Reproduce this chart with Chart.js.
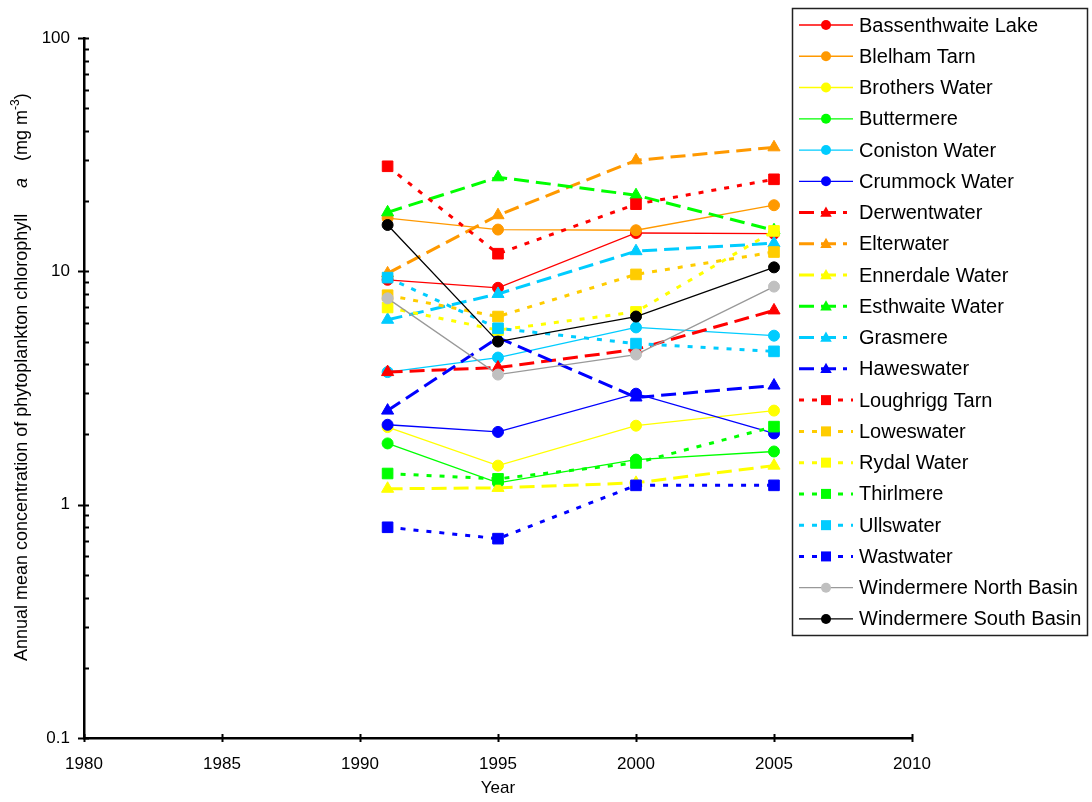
<!DOCTYPE html>
<html>
<head>
<meta charset="utf-8">
<script src="https://cdn.jsdelivr.net/npm/chart.js@4.4.1/dist/chart.umd.min.js"></script>
<style>
html,body{margin:0;padding:0;background:#fff;}
#wrap{position:relative;width:1092px;height:802px;}
</style>
</head>
<body>
<div id="wrap"><canvas id="chart"></canvas></div>
<script>
// survey years and lake chlorophyll a values (mg m-3)
const years=[1991,1995,2000,2005];
const xTicks=[1980,1985,1990,1995,2000,2005,2010];
const yTicks=[0.1,1,10,100];

const bassenthwaite=[9.2,8.5,14.6,14.5];
const blelham=[16.9,15.1,15.0,19.2];
const brothers=[2.15,1.47,2.18,2.53];
const buttermere=[1.83,1.24,1.56,1.69];
const coniston=[3.7,4.27,5.75,5.3];
const crummock=[2.2,2.05,2.99,2.02];
const derwent=[3.7,3.87,4.63,6.8];
const elter=[9.8,17.4,29.9,34.0];
const ennerdale=[1.17,1.18,1.24,1.47];
const esthwaite=[17.9,25.3,21.2,15.0];
const grasmere=[6.2,8.0,12.2,13.2];
const hawes=[2.53,5.2,2.88,3.24];
const loughrigg=[28.2,11.9,19.4,24.8];
const lowes=[7.9,6.4,9.7,12.1];
const rydal=[7.0,5.6,6.7,14.9];
const thirlmere=[1.36,1.29,1.51,2.16];
const ulls=[9.4,5.7,4.9,4.54];
const wast=[0.80,0.715,1.21,1.21];
const winNorth=[7.66,3.61,4.4,8.6];
const winSouth=[15.8,5.0,6.4,10.4];

const FONT="'Liberation Sans', Arial, sans-serif";

// c = circle/solid thin, t = triangle/long dash, s = square/dotted
const series=[
["Bassenthwaite Lake",bassenthwaite,"c","#ff0000"],
["Blelham Tarn",blelham,"c","#ff9900"],
["Brothers Water",brothers,"c","#ffff00"],
["Buttermere",buttermere,"c","#00ff00"],
["Coniston Water",coniston,"c","#00ccff"],
["Crummock Water",crummock,"c","#0000ff"],
["Derwentwater",derwent,"t","#ff0000"],
["Elterwater",elter,"t","#ff9900"],
["Ennerdale Water",ennerdale,"t","#ffff00"],
["Esthwaite Water",esthwaite,"t","#00ff00"],
["Grasmere",grasmere,"t","#00ccff"],
["Haweswater",hawes,"t","#0000ff"],
["Loughrigg Tarn",loughrigg,"s","#ff0000"],
["Loweswater",lowes,"s","#ffcc00"],
["Rydal Water",rydal,"s","#ffff00"],
["Thirlmere",thirlmere,"s","#00ff00"],
["Ullswater",ulls,"s","#00ccff"],
["Wastwater",wast,"s","#0000ff"],
["Windermere North Basin",winNorth,"c","#c0c0c0"],
["Windermere South Basin",winSouth,"c","#000000"]
];

const styles={
c:{point:"circle",r:5.5,width:1.3,dash:[]},
t:{point:"triangle",r:7,width:3,dash:[15,7]},
s:{point:"rect",r:7.5,width:3,dash:[5,8]}
};

function lineColor(name,col){
if(name==="Windermere North Basin")return "#999999";
return col;
}

const datasets=series.map((s,i)=>{
let st=styles[s[2]];
return{
label:s[0],
data:years.map((y,j)=>({x:y,y:s[1][j]})),
borderColor:lineColor(s[0],s[3]),
backgroundColor:s[3],
pointBackgroundColor:s[3],
pointBorderColor:s[3],
pointBorderWidth:1,
pointStyle:st.point,
pointRadius:st.r,
borderWidth:st.width,
borderDash:st.dash,
tension:0,
order:100-i
};
});

function drawMarker(ctx,kind,x,y,col,sz){
ctx.fillStyle=col;
ctx.beginPath();
if(kind==="c"){ctx.arc(x,y,sz,0,Math.PI*2);}
else if(kind==="t"){ctx.moveTo(x,y-sz*1.1);ctx.lineTo(x+sz*1.05,y+sz*0.75);ctx.lineTo(x-sz*1.05,y+sz*0.75);ctx.closePath();}
else{ctx.rect(x-sz,y-sz,sz*2,sz*2);}
ctx.fill();
}

const extras={
id:"extras",
afterDraw(chart){
const ctx=chart.ctx;
const xs=chart.scales.x,ys=chart.scales.y;
const ax=xs.left,ay=ys.bottom;
ctx.save();
ctx.strokeStyle="#000";
ctx.lineWidth=2;
// y axis tick marks, major crossing, minor inside
for(let d=0.1;d<=10.5;d*=10){
for(let m=1;m<=9;m++){
let py=Math.round(ys.getPixelForValue(d*m))+0.5;
ctx.beginPath();
ctx.moveTo(m===1?ax-6:ax,py);ctx.lineTo(ax+5,py);ctx.stroke();
}
}
let ptop=Math.round(ys.getPixelForValue(100))+0.5;
ctx.beginPath();ctx.moveTo(ax-6,ptop);ctx.lineTo(ax+5,ptop);ctx.stroke();
xTicks.forEach(v=>{
let px=Math.round(xs.getPixelForValue(v))+0.5;
ctx.beginPath();ctx.moveTo(px,ay-4);ctx.lineTo(px,ay+4);ctx.stroke();
});

// y axis title with italic a and superscript
ctx.fillStyle="#000";
ctx.translate(22,661);
ctx.rotate(-Math.PI/2);
ctx.textBaseline="middle";
ctx.textAlign="left";
ctx.font="18px "+FONT;
ctx.fillText("Annual mean concentration of phytoplankton chlorophyll",0,0);
ctx.font="italic 18px "+FONT;
ctx.fillText("a",473,0);
ctx.font="18px "+FONT;
let x0=500;
ctx.fillText("(mg m",x0,0);
x0+=ctx.measureText("(mg m").width;
ctx.font="12px "+FONT;
ctx.fillText("-3",x0,-6);
x0+=ctx.measureText("-3").width;
ctx.font="18px "+FONT;
ctx.fillText(")",x0,0);
ctx.restore();

// legend box
ctx.save();
ctx.fillStyle="#fff";
ctx.fillRect(792,8,296,628);
ctx.strokeStyle="#222";
ctx.lineWidth=1.5;
ctx.strokeRect(792.5,8.5,295,627);
ctx.font="20px "+FONT;
ctx.textBaseline="middle";
ctx.textAlign="left";
series.forEach((s,i)=>{
let st=styles[s[2]];
let y=25+i*31.26;
ctx.strokeStyle=lineColor(s[0],s[3]);
ctx.lineWidth=st.width;
ctx.setLineDash(st.dash);
ctx.beginPath();ctx.moveTo(799,y);ctx.lineTo(s[2]==="t"?847:853,y);ctx.stroke();
ctx.setLineDash([]);
drawMarker(ctx,s[2],826,y,s[3],s[2]==="c"?5:s[2]==="t"?5.5:5);
ctx.fillStyle="#000";
ctx.fillText(s[0],859,y+1);
});
ctx.restore();
}
};

new Chart(document.getElementById("chart"),{
type:"line",
data:{datasets:datasets},
options:{
responsive:true,
maintainAspectRatio:false,
animation:false,
devicePixelRatio:1,
layout:{padding:{left:0,right:180,top:38,bottom:0}},
plugins:{legend:{display:false},tooltip:{enabled:false}},
scales:{
x:{
type:"linear",min:1980,max:2010,
afterBuildTicks:s=>{s.ticks=xTicks.map(v=>({value:v}));},
afterFit:s=>{s.height=64;},
grid:{display:false,drawTicks:false},
border:{display:true,color:"#000",width:2.5},
ticks:{padding:16,color:"#000",font:{family:FONT,size:17},maxRotation:0,autoSkip:false,callback:v=>String(v)},
title:{display:true,text:"Year",color:"#000",font:{family:FONT,size:17},padding:{top:0,bottom:3}}
},
y:{
type:"logarithmic",min:0.1,max:100,
afterBuildTicks:s=>{s.ticks=yTicks.map(v=>({value:v}));},
afterFit:s=>{s.width=84;},
grid:{display:false,drawTicks:false},
border:{display:true,color:"#000",width:2.5},
ticks:{padding:14,color:"#000",font:{family:FONT,size:17},callback:v=>String(v)}
}
}
},
plugins:[extras]
});
</script>
</body>
</html>
